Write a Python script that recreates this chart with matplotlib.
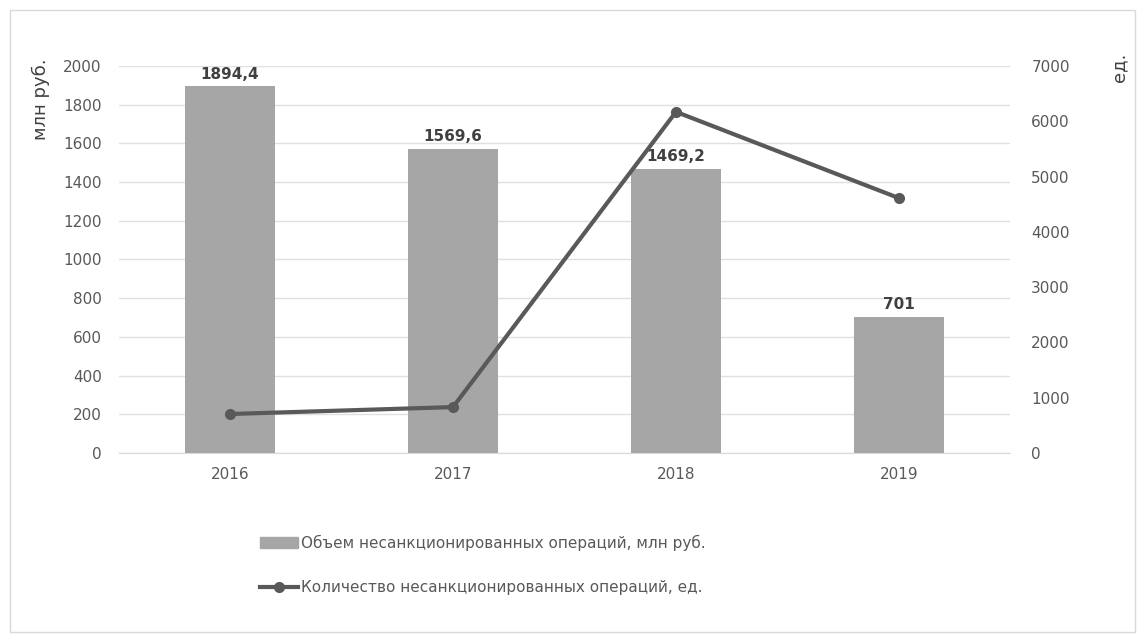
import matplotlib.pyplot as plt
import numpy as np
from matplotlib.patches import Rectangle
from matplotlib.lines import Line2D

years = ['2016', '2017', '2018', '2019']
volume = [1894.4, 1569.6, 1469.2, 701]
volume_labels = ['1894,4', '1569,6', '1469,2', '701']
count = [705, 830, 6170, 4610]

left_ticks = [0, 200, 400, 600, 800, 1000, 1200, 1400, 1600, 1800, 2000]
right_ticks = [0, 1000, 2000, 3000, 4000, 5000, 6000, 7000]

bar_name = 'Объем несанкционированных операций, млн руб.'
line_name = 'Количество несанкционированных операций, ед.'

bar_color = '#a6a6a6'
line_color = '#595959'
text_color = '#595959'

plt.rcParams['font.family'] = ['DejaVu Sans']

fig = plt.figure(figsize=(11.45, 6.38), dpi=100)
ax = fig.add_axes([0.1035, 0.290, 0.779, 0.6066])
x = np.arange(len(years))

ax.bar(x, volume, width=0.4, color=bar_color, zorder=2)
ax.set_xlim(-0.5, len(years) - 0.5)
ax.set_ylim(0, 2000)
ax.set_yticks(left_ticks)
ax.set_xticks(x)
ax.set_xticklabels(years)
ax.yaxis.grid(True, color='#e0e0e0', linewidth=1, zorder=0)
ax.set_axisbelow(True)
for s in ax.spines.values():
    s.set_visible(False)
ax.spines['bottom'].set_visible(True)
ax.spines['bottom'].set_color('#d9d9d9')
ax.tick_params(length=0, colors=text_color, labelsize=11)
ax.tick_params(axis='y', pad=12)
ax.tick_params(axis='x', pad=10)

for xi, v, lab in zip(x, volume, volume_labels):
    ax.text(xi, v + 25, lab, ha='center', va='bottom', fontsize=11,
            fontweight='bold', color='#404040', zorder=5)

ax2 = ax.twinx()
ax2.plot(x, count, color=line_color, linewidth=3, marker='o', markersize=7, zorder=4)
ax2.set_ylim(0, 7000)
ax2.set_yticks(right_ticks)
for s in ax2.spines.values():
    s.set_visible(False)
ax2.tick_params(length=0, colors=text_color, labelsize=11, pad=15)

fig.text(0.036, 0.845, 'млн руб.', rotation=90, ha='center', va='center',
         fontsize=13, color='#404040')
fig.text(0.978, 0.895, 'ед.', rotation=90, ha='center', va='center',
         fontsize=13, color='#404040')

handles = [Rectangle((0, 0), 1, 1, color=bar_color),
           Line2D([0], [0], color=line_color, linewidth=3, marker='o', markersize=7)]
fig.legend(handles, [bar_name, line_name], loc='upper left',
           bbox_to_anchor=(0.215, 0.183), frameon=False, fontsize=11,
           labelcolor=text_color, handlelength=2.5, handletextpad=0.2,
           labelspacing=1.9)

fig.patches.append(Rectangle((0.009, 0.01), 0.982, 0.975, transform=fig.transFigure,
                             fill=False, edgecolor='#d9d9d9', linewidth=1))

fig.savefig('out.png', dpi=100)
